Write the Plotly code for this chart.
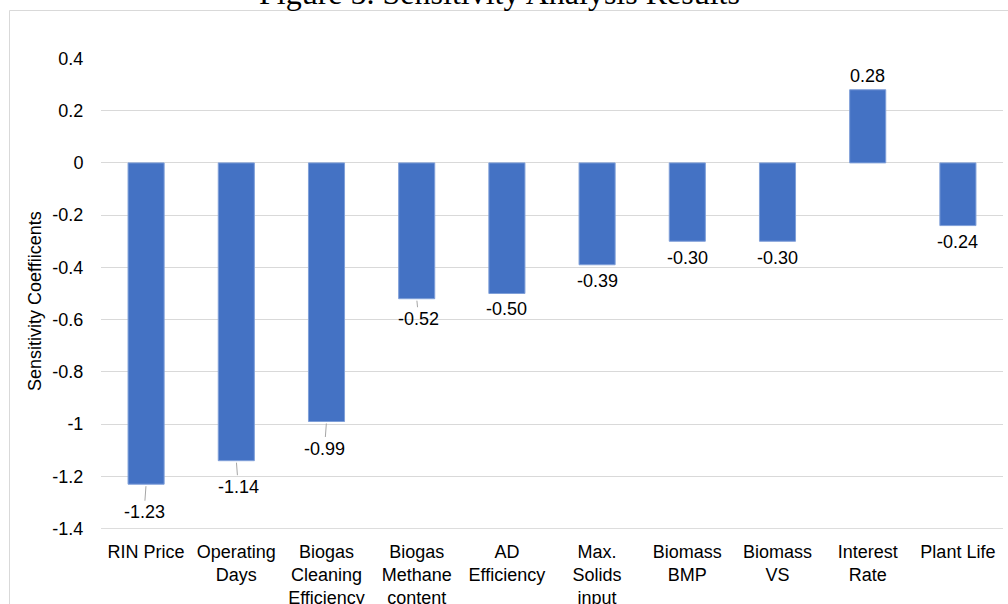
import plotly.graph_objects as go

categories = ["RIN Price", "Operating<br>Days", "Biogas<br>Cleaning<br>Efficiency",
              "Biogas<br>Methane<br>content", "AD<br>Efficiency", "Max.<br>Solids<br>input",
              "Biomass<br>BMP", "Biomass<br>VS", "Interest<br>Rate", "Plant Life"]
coefficients = [-1.23, -1.14, -0.99, -0.52, -0.50, -0.39, -0.30, -0.30, 0.28, -0.24]
y_tickvals = [0.4, 0.2, 0, -0.2, -0.4, -0.6, -0.8, -1, -1.2, -1.4]
y_ticktext = ["0.4", "0.2", "0", "-0.2", "-0.4", "-0.6", "-0.8", "-1", "-1.2", "-1.4"]

# label placement style: (leader line?, ax px, ay px)
label_style = [(True, -2, 28), (True, 2, 26), (True, -2, 27), (True, 2, 20),
               (False, 0, 15), (False, 0, 16), (False, 0, 17), (False, 0, 17),
               (False, 0, -14), (False, 0, 16.5)]

FONT = "Liberation Sans, Arial, sans-serif"
BLUE = "#4472C4"
GRID = "#d9d9d9"

fig = go.Figure(go.Bar(
    x=categories, y=coefficients, width=0.4,
    marker=dict(color=BLUE, line=dict(color="#7f9fd8", width=1)),
    hoverinfo="skip",
))

annotations = []
for cat, val, (lead, ax, ay) in zip(categories, coefficients, label_style):
    txt = f"{val:.2f}"
    if lead:
        annotations.append(dict(x=cat, y=val, xref="x", yref="y", text=txt,
                                showarrow=True, arrowhead=0, arrowwidth=1,
                                arrowcolor="#a6a6a6", ax=ax, ay=ay, standoff=2,
                                font=dict(family=FONT, size=18, color="#000")))
    else:
        annotations.append(dict(x=cat, y=val, xref="x", yref="y", text=txt,
                                showarrow=False, yanchor="middle", yshift=-ay,
                                font=dict(family=FONT, size=18, color="#000")))

# title (cut at top like the reference)
annotations.append(dict(text="Figure 5. Sensitivity Analysis Results", xref="paper", yref="paper",
                        x=(499 - 101) / 902, y=(529 - 13) / 471, xanchor="center", yanchor="bottom",
                        showarrow=False,
                        font=dict(family="Liberation Serif, Times New Roman, serif", size=32, color="#000")))
# y axis title
annotations.append(dict(text="Sensitivity Coeffiicents", xref="paper", yref="paper",
                        x=(35 - 101) / 902, y=(529 - 301) / 471, textangle=-90,
                        xanchor="center", yanchor="middle", showarrow=False,
                        font=dict(family=FONT, size=18, color="#000")))

fig.update_layout(
    width=1008, height=604,
    margin=dict(l=101, r=5, t=58, b=75, autoexpand=False),
    paper_bgcolor="white", plot_bgcolor="white",
    showlegend=False,
    annotations=annotations,
    font=dict(family=FONT, size=18, color="#000"),
    shapes=[dict(type="rect", xref="paper", yref="paper",
                 x0=(9.5 - 101) / 902, x1=(1020 - 101) / 902,
                 y0=(529 - 620) / 471, y1=(529 - 10.5) / 471,
                 line=dict(color=GRID, width=1), fillcolor="rgba(0,0,0,0)", layer="below"),
            dict(type="line", xref="paper", yref="y", x0=0, x1=1,
                 y0=y_tickvals[-1], y1=y_tickvals[-1],
                 line=dict(color=GRID, width=1), layer="below")],
)
fig.update_xaxes(showgrid=False, showline=False, zeroline=False,
                 ticks="outside", ticklen=6, tickcolor="rgba(0,0,0,0)",
                 tickfont=dict(family=FONT, size=18, color="#000"), tickangle=0)
fig.update_yaxes(range=[-1.4015, 0.4015], tickvals=y_tickvals, ticktext=y_ticktext,
                 showgrid=True, gridcolor=GRID, gridwidth=1, zeroline=False, showline=False,
                 ticks="outside", ticklen=13, tickcolor="rgba(0,0,0,0)",
                 tickfont=dict(family=FONT, size=18, color="#000"))

fig.write_html("out.html")
